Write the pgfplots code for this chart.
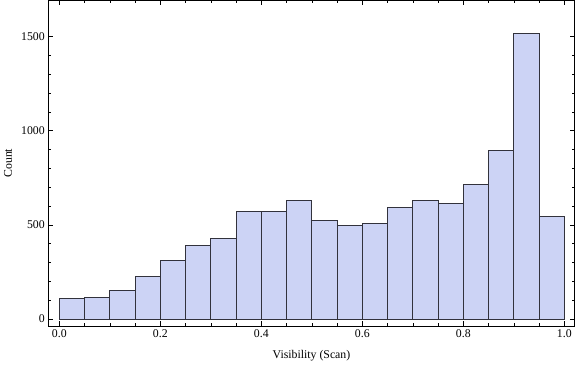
\documentclass[border=0pt]{standalone}
\usepackage{pgfplots}
\pgfplotsset{compat=1.18}
\usepackage{fontspec}
\setmainfont{Liberation Serif}
\definecolor{barfill}{RGB}{204,211,245}
\definecolor{baredge}{RGB}{50,50,60}
\begin{document}
\begin{tikzpicture}
\path[use as bounding box] (-48.3pt,-40pt) rectangle (527.7pt,326pt);
\begin{axis}[
  at={(0pt,0pt)}, anchor=south west,
  width=526.4pt, height=325.5pt, scale only axis,
  xmin=-0.0218, xmax=1.0206,
  ymin=-37, ymax=1692,
  xtick={0,0.2,0.4,0.6,0.8,1.0},
  xticklabels={0.0,0.2,0.4,0.6,0.8,1.0},
  minor x tick num=3,
  ytick={0,500,1000,1500},
  minor y tick num=4,
  tick align=inside,
  major tick length=4.5pt,
  minor tick length=3pt,
  tick style={black, line width=0.6pt},
  axis line style={black, line width=0.8pt},
  /pgf/number format/assume math mode=true,
  scaled y ticks=false,
  yticklabel={\pgfmathprintnumber[fixed,precision=0,1000 sep={}]{\tick}},
  ticklabel style={font=\fontsize{11.8}{13}\selectfont},
  label style={font=\fontsize{11.8}{13}\selectfont},
  xlabel={Visibility (Scan)},
  ylabel={Count},
  xlabel style={at={(axis description cs:0.5,-0.091)}, anchor=center},
  ylabel style={at={(axis description cs:-0.0766,0.5)}, anchor=center},
]
\addplot[ybar interval, fill=barfill, draw=baredge, line width=0.7pt] coordinates {
(0.00,110) (0.05,115) (0.10,152) (0.15,227) (0.20,312) (0.25,391)
(0.30,428) (0.35,572) (0.40,572) (0.45,630) (0.50,524) (0.55,497)
(0.60,508) (0.65,593) (0.70,630) (0.75,614) (0.80,715) (0.85,896)
(0.90,1517) (0.95,545) (1.00,545)
};
\end{axis}
\end{tikzpicture}
\end{document}
